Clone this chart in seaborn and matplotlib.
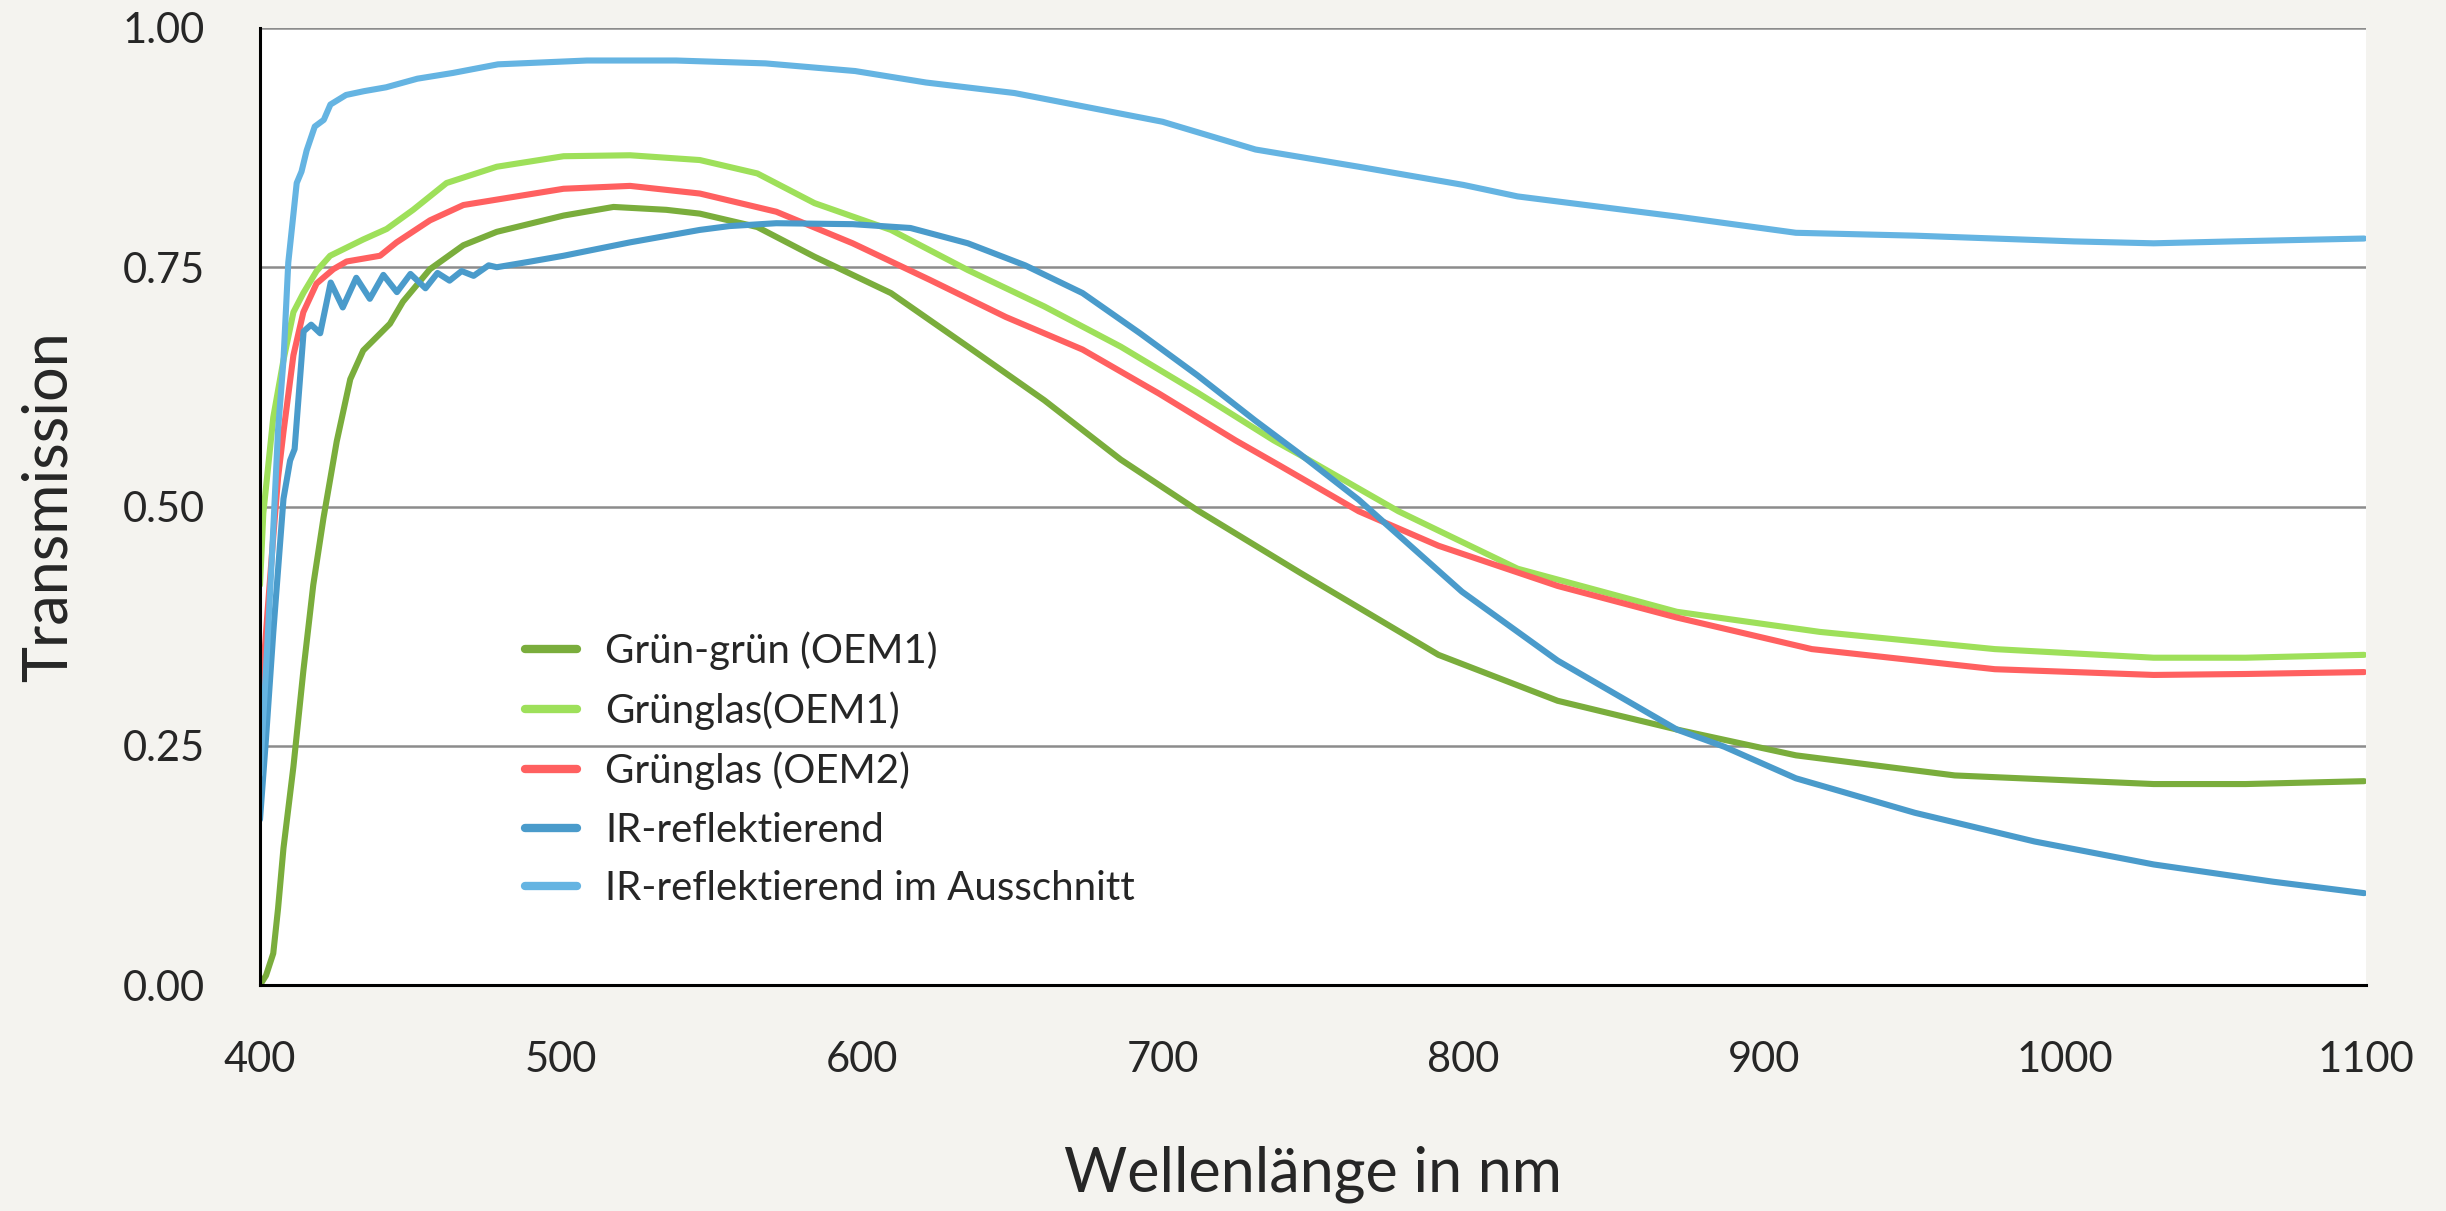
"""Transmissionsspektren verschiedener Autoglaeser."""

import matplotlib
import matplotlib.pyplot as plt
import pandas as pd
import seaborn as sns

matplotlib.use("Agg")

# Grün-grün (OEM1)
gg_nm = [400, 402, 404.4, 406, 407.8, 411.1, 414.4, 417.7, 421.1, 425.5, 430, 434.3,
         443.2, 447.5, 456.5, 467.6, 478.7, 500.9, 517.5, 535, 546.2, 565.3, 584.3,
         609.7, 635.3, 660.7, 686.1, 711.6, 745.6, 752, 791.7, 831.3, 870.9, 910.5,
         963.3, 1029.4, 1060, 1099.4]
gg_t = [0.0, 0.01, 0.033, 0.08, 0.143, 0.228, 0.328, 0.418, 0.488, 0.568, 0.633, 0.663,
        0.691, 0.714, 0.748, 0.773, 0.787, 0.804, 0.813, 0.810, 0.806, 0.792, 0.761,
        0.723, 0.667, 0.611, 0.549, 0.496, 0.431, 0.419, 0.345, 0.297, 0.267, 0.240,
        0.219, 0.210, 0.210, 0.213]

# Grünglas(OEM1)
g1_nm = [400, 401.1, 404.4, 407.8, 411.1, 414.4, 418.8, 423.3, 434.3, 442.1, 450.9,
         462, 478.7, 500.9, 523, 546.2, 565.3, 584.3, 609.7, 635.3, 660.7, 686.1,
         711.6, 737, 745.6, 778.4, 818, 870.9, 918.4, 976.6, 1029.4, 1060, 1099.4]
g1_t = [0.418, 0.493, 0.593, 0.653, 0.703, 0.723, 0.746, 0.762, 0.779, 0.790, 0.810,
        0.838, 0.855, 0.866, 0.867, 0.862, 0.848, 0.817, 0.789, 0.747, 0.709, 0.667,
        0.619, 0.569, 0.554, 0.495, 0.435, 0.390, 0.369, 0.351, 0.342, 0.342, 0.345]

# Grünglas (OEM2)
g2_nm = [400, 401.1, 402.5, 404.4, 406, 407.8, 411.1, 414.4, 418.8, 424.4, 428.8,
         439.9, 445.4, 456.5, 467.6, 500.9, 523, 546.2, 571.6, 597, 622.5, 647.9,
         673.4, 698.8, 724.3, 738.8, 765.2, 791.7, 831.3, 870.9, 915.8, 976.6,
         1029.4, 1060, 1099.4]
g2_t = [0.203, 0.33, 0.39, 0.468, 0.53, 0.578, 0.658, 0.703, 0.733, 0.748, 0.756,
        0.762, 0.776, 0.799, 0.815, 0.832, 0.835, 0.827, 0.808, 0.775, 0.737, 0.698,
        0.664, 0.618, 0.569, 0.543, 0.495, 0.459, 0.417, 0.384, 0.351, 0.330,
        0.324, 0.325, 0.327]

# IR-reflektierend
ir_nm = [400, 402, 404.4, 407.8, 410, 411.5, 414.5, 417, 420, 423.5, 427.5, 432,
         436.5, 441, 445.5, 450, 455, 459, 463, 467, 471, 476, 478.7, 490, 500.9,
         523, 546.2, 556, 571.6, 597, 616.2, 635.3, 654.3, 673.4, 692.5, 711.6,
         730.7, 745.6, 765.2, 799.5, 831.3, 870.9, 886.7, 910.5, 950, 989.8,
         1029.4, 1069, 1099.4]
ir_t = [0.173, 0.258, 0.368, 0.508, 0.548, 0.56, 0.683, 0.690, 0.681, 0.734, 0.708,
        0.739, 0.717, 0.742, 0.724, 0.743, 0.728, 0.744, 0.736, 0.746, 0.741, 0.752,
        0.750, 0.756, 0.762, 0.776, 0.789, 0.793, 0.796, 0.795, 0.791, 0.775, 0.752,
        0.723, 0.681, 0.637, 0.590, 0.555, 0.507, 0.411, 0.339, 0.267, 0.249, 0.216,
        0.180, 0.150, 0.126, 0.108, 0.096]

# IR-reflektierend im Ausschnitt
ira_nm = [400, 402, 404, 406, 407.8, 409.4, 412.2, 413.8, 415.5, 418.2, 421.2, 423.4,
          428.6, 434.6, 441.9, 452.3, 464.1, 479.1, 508.7, 538.3, 568, 597.8, 621.4,
          650.8, 700, 730.9, 765.2, 800, 818, 870.9, 910.5, 950, 1002.9, 1029.4,
          1055.7, 1099.4]
ira_t = [0.22, 0.33, 0.45, 0.58, 0.653, 0.755, 0.838, 0.850, 0.872, 0.897, 0.904, 0.920,
         0.930, 0.934, 0.938, 0.947, 0.953, 0.962, 0.966, 0.966, 0.963, 0.955, 0.943,
         0.932, 0.902, 0.873, 0.855, 0.836, 0.824, 0.803, 0.786, 0.783, 0.777, 0.775,
         0.777, 0.780]

labels = ["Grün-grün (OEM1)", "Grünglas(OEM1)", "Grünglas (OEM2)",
          "IR-reflektierend", "IR-reflektierend im Ausschnitt"]
colors = ["#7AAD3C", "#9EE05A", "#FF6060", "#4A9BCB", "#65B4E2"]

series = [(gg_nm, gg_t), (g1_nm, g1_t), (g2_nm, g2_t), (ir_nm, ir_t), (ira_nm, ira_t)]
frames = [pd.DataFrame({"nm": x, "T": y, "Glas": lab}) for (x, y), lab in zip(series, labels)]
df = pd.concat(frames, ignore_index=True)

sns.set_theme(style="white")
plt.rcParams["font.family"] = ["Lato", "DejaVu Sans"]

bg = "#F4F3EF"
fig = plt.figure(figsize=(24.46, 12.11), dpi=100, facecolor=bg)
ax = fig.add_axes([0.1063, 0.1866, 0.8610, 0.7903])
ax.set_facecolor("white")

sns.lineplot(data=df, x="nm", y="T", hue="Glas", hue_order=labels,
             palette=dict(zip(labels, colors)), sort=False, estimator=None,
             linewidth=4.4, ax=ax)

ax.set_xlim(400, 1100)
ax.set_ylim(0, 1.0)
ax.set_xticks(range(400, 1101, 100))
ax.set_yticks([0, 0.25, 0.5, 0.75, 1.0])
ax.set_yticklabels([f"{v:.2f}" for v in [0, 0.25, 0.5, 0.75, 1.0]])

ax.yaxis.grid(True, color="#8C8C8C", linewidth=1.8)
ax.xaxis.grid(False)
ax.set_axisbelow(True)
for side in ["top", "right"]:
    ax.spines[side].set_visible(False)
for side in ["left", "bottom"]:
    ax.spines[side].set_color("black")
    ax.spines[side].set_linewidth(2.2)

ax.tick_params(axis="y", direction="out", length=6, width=2, color="black",
               labelsize=30, pad=34)
ax.tick_params(axis="x", length=0, labelsize=30, pad=40)

ax.set_xlabel("Wellenlänge in nm", fontsize=44, labelpad=48)
ax.set_ylabel("Transmission", fontsize=44, labelpad=32)

leg = ax.legend(loc="upper left", bbox_to_anchor=(0.118, 0.386), frameon=False,
                fontsize=29, handlelength=1.3, handletextpad=0.7, labelspacing=0.53,
                borderaxespad=0)
for line in leg.get_lines():
    line.set_linewidth(6)

plt.savefig("out.png", dpi=100, facecolor=bg)
plt.close()
